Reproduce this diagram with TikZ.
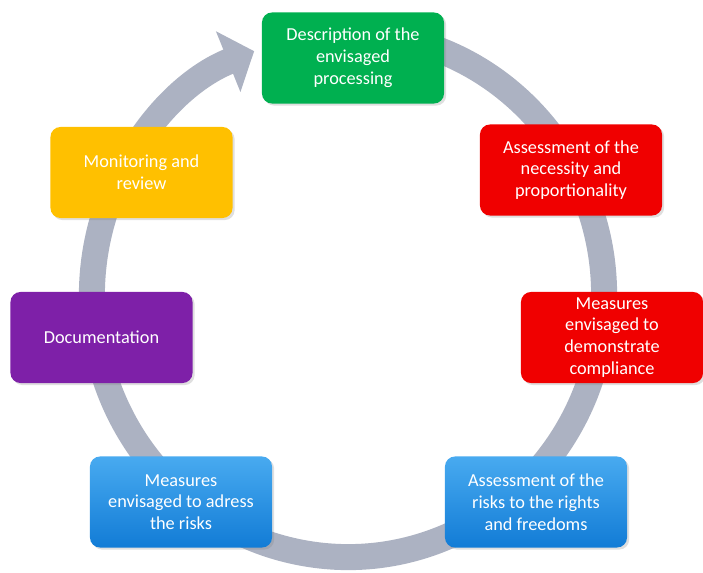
\documentclass[tikz,border=0pt]{standalone}
\usepackage{fontspec}
\setmainfont{Carlito}
\usetikzlibrary{arrows.meta}
\usetikzlibrary{shadows}
\definecolor{ringgray}{RGB}{172,178,194}
\definecolor{boxgreen}{RGB}{0,176,80}
\definecolor{boxred}{RGB}{240,0,0}
\definecolor{boxpurple}{RGB}{126,32,168}
\definecolor{boxyellow}{RGB}{255,192,0}
\definecolor{bluetop}{RGB}{72,170,240}
\definecolor{bluebot}{RGB}{18,124,214}
\tikzstyle{stage} = [rounded corners=0.25cm, minimum width=4.55cm, minimum height=2.275cm, align=center, text=white, font=\fontsize{13}{15.5}\selectfont, drop shadow={opacity=0.25, shadow xshift=1.5pt, shadow yshift=-1.5pt}]
\tikzstyle{bluestage} = [stage, top color=bluetop, bottom color=bluebot]
\tikzstyle{ring} = [line width=0.65cm, ringgray, -{Triangle[length=0.7cm, width=1.6cm]}]

\begin{document}
\begin{tikzpicture}[x=0.025cm, y=0.025cm]
  \useasboundingbox (0,0) rectangle (703,572);
  % Cycle arrow
  \coordinate (ctr) at (348,277);
  \draw[ring] ([shift={(80:6.4cm and 6.55cm)}]ctr) arc[start angle=80, end angle=-248.5, x radius=6.4cm, y radius=6.55cm];
  % Stages
  \node[stage, fill=boxgreen] (descr) at (353,514) {Description of the\\envisaged\\processing};
  \node[stage, fill=boxred] (necess) at (571,402) {Assessment of the\\necessity and\\proportionality};
  \node[stage, fill=boxred] (compl) at (612,234.5) {Measures\\envisaged to\\demonstrate\\compliance};
  \node[bluestage] (risks) at (536,70) {Assessment of the\\risks to the rights\\and freedoms};
  \node[bluestage] (adress) at (181,70) {Measures\\envisaged to adress\\the risks};
  \node[stage, fill=boxpurple] (docu) at (101.5,234.5) {Documentation};
  \node[stage, fill=boxyellow] (monit) at (141.5,399.5) {Monitoring and\\review};
\end{tikzpicture}
\end{document}
